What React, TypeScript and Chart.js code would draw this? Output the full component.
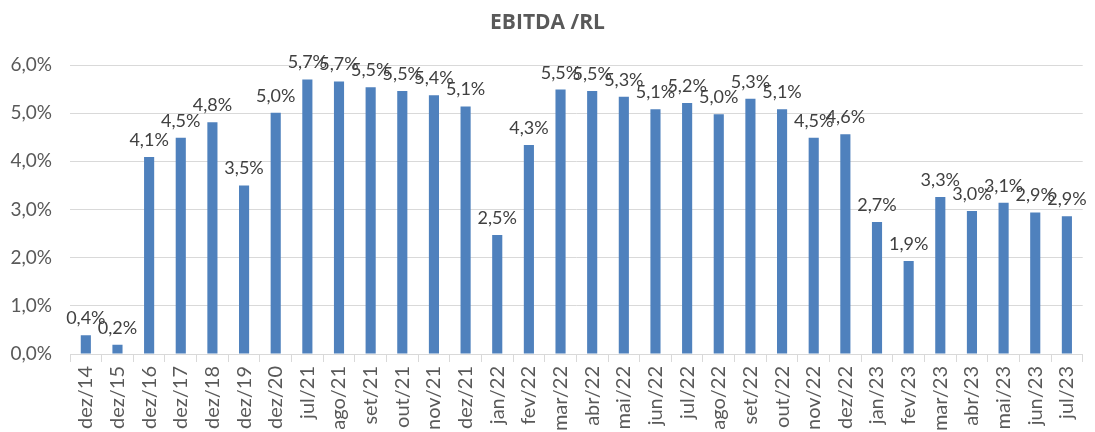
import React, { useEffect, useRef } from "react";
import { Chart, registerables } from "chart.js";

Chart.register(...registerables);

const chartTitle = "EBITDA /RL";

const categories = [
  "dez/14", "dez/15", "dez/16", "dez/17", "dez/18", "dez/19", "dez/20",
  "jul/21", "ago/21", "set/21", "out/21", "nov/21", "dez/21",
  "jan/22", "fev/22", "mar/22", "abr/22", "mai/22", "jun/22", "jul/22",
  "ago/22", "set/22", "out/22", "nov/22", "dez/22",
  "jan/23", "fev/23", "mar/23", "abr/23", "mai/23", "jun/23", "jul/23",
];

const ebitdaValues = [
  0.39, 0.19, 4.09, 4.49, 4.81, 3.5, 5.01,
  5.7, 5.66, 5.54, 5.46, 5.37, 5.14,
  2.47, 4.34, 5.49, 5.46, 5.34, 5.08, 5.21,
  4.98, 5.3, 5.08, 4.49, 4.56,
  2.74, 1.93, 3.26, 2.97, 3.14, 2.94, 2.86,
];

const yMin = 0;
const yMax = 6;
const yStep = 1;

const fmt = (v: number) => v.toFixed(1).replace(".", ",") + "%";

const FONT = "Lato, 'Open Sans', sans-serif";

const titlePlugin = {
  id: "customTitle",
  afterDraw(chart: any) {
    const ctx = chart.ctx;
    ctx.save();
    ctx.font = `bold 21px 'Open Sans', sans-serif`;
    ctx.fillStyle = "#595959";
    ctx.textAlign = "center";
    ctx.textBaseline = "middle";
    ctx.fillText(chartTitle, chart.width / 2, 23);
    ctx.restore();
  },
};

const labelPlugin = {
  id: "barLabels",
  afterDatasetsDraw(chart: any) {
    const ctx = chart.ctx;
    const meta = chart.getDatasetMeta(0);
    const data = chart.data.datasets[0].data as number[];
    ctx.save();
    ctx.font = `18px ${FONT}`;
    ctx.fillStyle = "#404040";
    ctx.textAlign = "center";
    ctx.textBaseline = "alphabetic";
    meta.data.forEach((bar: any, i: number) => {
      ctx.fillText(fmt(data[i]), bar.x, bar.y - 11);
    });
    ctx.restore();
  },
};

export default function App() {
  const canvasRef = useRef<HTMLCanvasElement | null>(null);

  useEffect(() => {
    document.body.style.margin = "0";
    const canvas = canvasRef.current;
    if (!canvas) return;
    const chart = new Chart(canvas, {
      type: "bar",
      data: {
        labels: categories,
        datasets: [
          {
            data: ebitdaValues,
            backgroundColor: "#4F81BD",
            borderWidth: 0,
            barPercentage: 0.32,
            categoryPercentage: 1,
          },
        ],
      },
      options: {
        responsive: false,
        animation: false,
        devicePixelRatio: 1,
        layout: { padding: { top: 65, right: 7, left: 0, bottom: 0 } },
        plugins: {
          legend: { display: false },
          title: { display: false },
          tooltip: { enabled: false },
        },
        scales: {
          x: {
            grid: {
              offset: true,
              drawOnChartArea: false,
              drawTicks: true,
              tickLength: 8,
              color: "#d9d9d9",
            },
            border: { display: true, color: "#d9d9d9" },
            ticks: {
              minRotation: 90,
              maxRotation: 90,
              autoSkip: false,
              padding: 4,
              color: "#595959",
              font: { family: FONT, size: 20 },
            },
            afterFit: (scale: any) => {
              scale.height = 78;
            },
          },
          y: {
            min: yMin,
            max: yMax,
            grid: {
              color: "#d9d9d9",
              drawTicks: false,
            },
            border: { display: false },
            ticks: {
              stepSize: yStep,
              padding: 18,
              color: "#595959",
              font: { family: FONT, size: 19 },
              callback: (v: any) => fmt(Number(v)),
            },
            afterFit: (scale: any) => {
              scale.width = 70;
            },
          },
        },
      },
      plugins: [titlePlugin, labelPlugin],
    });
    return () => chart.destroy();
  }, []);

  return (
    <div style={{ width: 1095, height: 432, overflow: "hidden" }}>
      <canvas ref={canvasRef} width={1095} height={432} />
    </div>
  );
}
